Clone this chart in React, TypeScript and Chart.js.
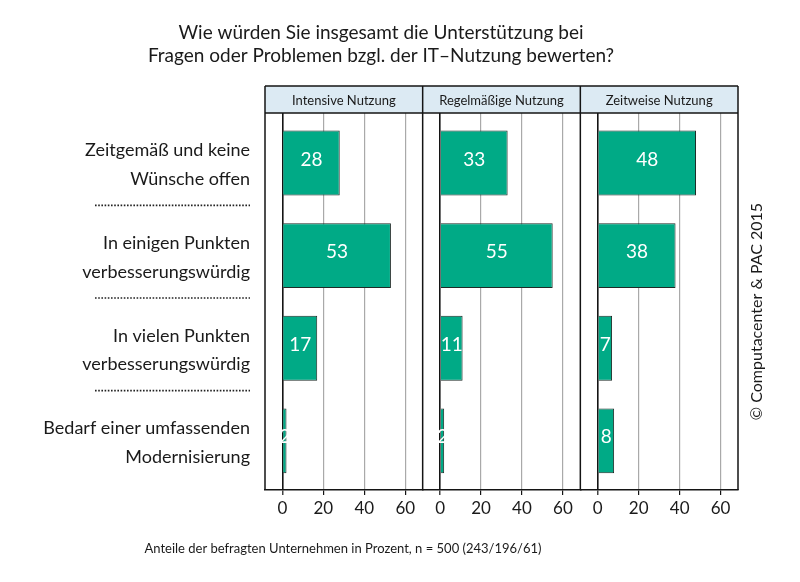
import { useEffect, useRef } from 'react';
import { Chart, registerables } from 'chart.js';

Chart.register(...registerables);

// ---------- data ----------
const titleLines = [
  'Wie würden Sie insgesamt die Unterstützung bei',
  'Fragen oder Problemen bzgl. der IT–Nutzung bewerten?',
];
const panelTitles = ['Intensive Nutzung', 'Regelmäßige Nutzung', 'Zeitweise Nutzung'];
const categoryLabels = [
  ['Zeitgemäß und keine', 'Wünsche offen'],
  ['In einigen Punkten', 'verbesserungswürdig'],
  ['In vielen Punkten', 'verbesserungswürdig'],
  ['Bedarf einer umfassenden', 'Modernisierung'],
];
const intensiveValues = [28, 53, 17, 2];
const regelmaessigeValues = [33, 55, 11, 2];
const zeitweiseValues = [48, 38, 7, 8];
const xTickValues = [0, 20, 40, 60];
const footnote = 'Anteile der befragten Unternehmen in Prozent, n = 500 (243/196/61)';
const copyright = '© Computacenter & PAC 2015';

// ---------- style ----------
const FONT = 'Lato, "Open Sans", sans-serif';
const TEXT = '#1a1a1a';
const AXIS = '#141414';
const GRID = '#a9a9a9';
const BAR = '#00aa86';
const BAR_BORDER = '#1e2a26';
const HEADER_FILL = '#dceaf3';
const X_MIN = -8.5;
const X_MAX = 68.5;

const decorPlugin = {
  id: 'decor',
  afterDatasetsDraw(chart: any) {
    const ctx = chart.ctx;
    ctx.save();
    ctx.fillStyle = '#ffffff';
    ctx.font = `19px ${FONT}`;
    ctx.textAlign = 'center';
    ctx.textBaseline = 'alphabetic';
    chart.data.datasets.forEach((ds: any, di: number) => {
      const meta = chart.getDatasetMeta(di);
      meta.data.forEach((el: any, i: number) => {
        const p = el.getProps(['x', 'y', 'base'], true);
        ctx.fillText(String(ds.data[i].x), (p.x + p.base) / 2, p.y + 2.5);
      });
    });
    ctx.restore();
  },
  afterDraw(chart: any) {
    const ctx = chart.ctx;
    const area = chart.chartArea;
    const xs = ['x1', 'x2', 'x3'].map((id) => chart.scales[id]);
    const yScale = chart.scales.y;
    const hTop = 86;
    ctx.save();

    // panel headers
    xs.forEach((s: any, i: number) => {
      ctx.fillStyle = HEADER_FILL;
      ctx.fillRect(s.left, hTop, s.right - s.left, area.top - hTop);
      ctx.fillStyle = TEXT;
      ctx.font = `13px ${FONT}`;
      ctx.textAlign = 'center';
      ctx.textBaseline = 'alphabetic';
      ctx.fillText(panelTitles[i], (s.left + s.right) / 2, 104.5);
    });

    // panel borders
    ctx.strokeStyle = AXIS;
    ctx.lineWidth = 1.5;
    ctx.beginPath();
    ctx.moveTo(xs[0].left, hTop);
    ctx.lineTo(xs[2].right, hTop);
    ctx.moveTo(xs[0].left, area.top);
    ctx.lineTo(xs[2].right, area.top);
    xs.forEach((s: any) => {
      ctx.moveTo(s.left, hTop);
      ctx.lineTo(s.left, area.bottom);
    });
    ctx.moveTo(xs[2].right, hTop);
    ctx.lineTo(xs[2].right, area.bottom);
    ctx.stroke();

    // dotted separators between category labels
    ctx.strokeStyle = '#222';
    ctx.lineWidth = 1.6;
    ctx.setLineDash([1.6, 1.6]);
    for (let i = 0; i < categoryLabels.length - 1; i++) {
      const yy = yScale.getPixelForValue(i + 0.5) - 4;
      ctx.beginPath();
      ctx.moveTo(95, yy);
      ctx.lineTo(250, yy);
      ctx.stroke();
    }
    ctx.setLineDash([]);

    // title
    ctx.fillStyle = TEXT;
    ctx.textAlign = 'center';
    ctx.textBaseline = 'alphabetic';
    ctx.font = `19px ${FONT}`;
    ctx.fillText(titleLines[0], 381, 38.5);
    ctx.fillText(titleLines[1], 381, 62);

    // footnote
    ctx.font = `13px ${FONT}`;
    ctx.fillText(footnote, 343, 553);

    // copyright (rotated)
    ctx.translate(762, 311.5);
    ctx.rotate(-Math.PI / 2);
    ctx.font = `16px ${FONT}`;
    ctx.fillText(copyright, 0, 0);

    ctx.restore();
  },
};

export default function App() {
  const ref = useRef<HTMLCanvasElement>(null);

  useEffect(() => {
    const canvas = ref.current;
    if (!canvas) return;
    const seriesList = [intensiveValues, regelmaessigeValues, zeitweiseValues];
    const xIds = ['x1', 'x2', 'x3'];

    const xScale = () => ({
      type: 'linear',
      position: 'bottom',
      stack: 'panels',
      stackWeight: 1,
      min: X_MIN,
      max: X_MAX,
      offset: false,
      afterBuildTicks: (s: any) => {
        s.ticks = xTickValues.map((v) => ({ value: v }));
      },
      afterFit: (s: any) => {
        s.height = 30;
      },
      grid: {
        color: (c: any) => (c.tick && c.tick.value === 0 ? AXIS : GRID),
        lineWidth: (c: any) => (c.tick && c.tick.value === 0 ? 1.6 : 1.2),
        drawTicks: true,
        tickLength: 5,
        tickColor: AXIS,
        tickWidth: 1.2,
      },
      border: { display: true, color: AXIS, width: 1.5 },
      ticks: {
        font: { family: FONT, size: 17 },
        color: TEXT,
        padding: 3,
        maxRotation: 0,
        autoSkip: false,
      },
    });

    const scales: any = {};
    xIds.forEach((id) => (scales[id] = xScale()));
    scales.y = {
      type: 'linear',
      position: 'left',
      reverse: true,
      offset: false,
      min: -0.54,
      max: 3.53,
      afterBuildTicks: (s: any) => {
        s.ticks = categoryLabels.map((_, i) => ({ value: i }));
      },
      afterFit: (s: any) => {
        s.width = 265;
      },
      grid: { display: false, drawTicks: false, offset: false },
      border: { display: false },
      ticks: {
        callback: (v: any) => categoryLabels[Math.round(Number(v))],
        font: { family: FONT, size: 18, lineHeight: 1.6 },
        color: TEXT,
        padding: 15,
        labelOffset: 2,
        autoSkip: false,
      },
    };

    const chart = new Chart(canvas, {
      type: 'bar',
      data: {
        datasets: seriesList.map((vals, k) => ({
          label: panelTitles[k],
          data: vals.map((v, i) => ({ x: v, y: i })),
          xAxisID: xIds[k],
          yAxisID: 'y',
          grouped: false,
          barPercentage: 0.7,
          categoryPercentage: 1,
          backgroundColor: BAR,
          borderColor: BAR_BORDER,
          borderWidth: 1,
        })),
      } as any,
      options: {
        indexAxis: 'y',
        responsive: false,
        animation: false,
        events: [],
        layout: { padding: { top: 113, right: 62, bottom: 62, left: 0 }, autoPadding: false },
        plugins: { legend: { display: false }, tooltip: { enabled: false }, title: { display: false } },
        scales,
      } as any,
      plugins: [decorPlugin],
    });
    return () => chart.destroy();
  }, []);

  return (
    <div style={{ position: 'fixed', left: 0, top: 0, width: 800, height: 582, background: '#fff' }}>
      <canvas ref={ref} width={800} height={582} style={{ display: 'block' }} />
    </div>
  );
}
